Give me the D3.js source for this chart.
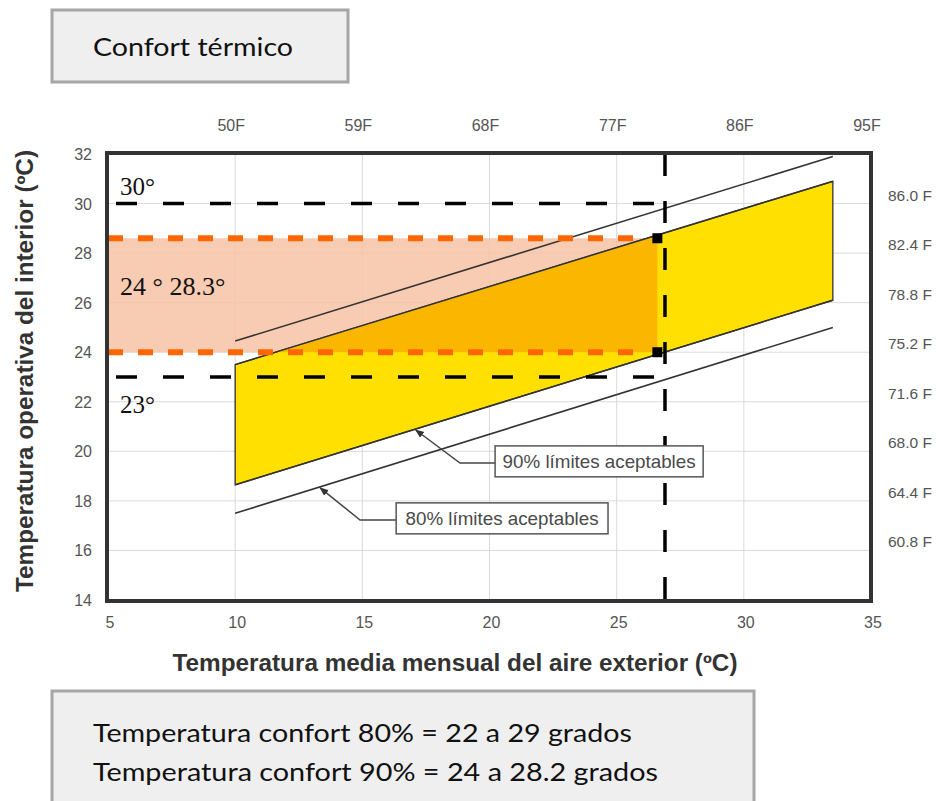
<!DOCTYPE html>
<html>
<head>
<meta charset="utf-8">
<script src="https://cdn.jsdelivr.net/npm/d3@7/dist/d3.min.js"></script>
<style>
  html, body { margin: 0; padding: 0; background: #ffffff; }
  svg { display: block; }
</style>
</head>
<body>
<svg id="chart" width="939" height="801"></svg>
<script>
// ---------------- data ----------------
const xTicks = [5, 10, 15, 20, 25, 30, 35];
const yTicks = [14, 16, 18, 20, 22, 24, 26, 28, 30, 32];
const topLabels = ["50F", "59F", "68F", "77F", "86F", "95F"];
const topLabelX = [10, 15, 20, 25, 30, 35];
const rightLabels = ["86.0 F", "82.4 F", "78.8 F", "75.2 F", "71.6 F", "68.0 F", "64.4 F", "60.8 F"];
const rightLabelY = [30, 28, 26, 24, 22, 20, 18, 16];

// acceptability limits [outdoor temp, operative temp]
const lim80Upper = [[10, 24.45], [33.5, 31.9]];
const lim80Lower = [[10, 17.5], [33.5, 25.0]];
const lim90Upper = [[10, 23.5], [33.5, 30.9]];
const lim90Lower = [[10, 18.65], [33.5, 26.1]];

// reference lines
const blackRefY = [30, 23];
const blackRefLabels = ["30°", "23°"];
const blackRefLabelY = [30.67, 21.87];
const verticalRefX = [26.9];
const comfortBandY = [24, 28.6];
const comfortBandXEnd = [26.6];
const bandLabel = ["24 ° 28.3°"];
const bandLabelY = [26.63];

// annotations
const annotTexts = ["90% límites aceptables", "80% límites aceptables"];
const annotTipX = [17.1, 13.34];
const annotLines = ["lim90Lower", "lim80Lower"];
const annotElbow = [[18.84, 19.53], [14.91, 17.23]];
const annotBox = [[20.22, 20.22, 28.4, 18.97], [16.33, 17.92, 24.66, 16.67]];

// ---------------- layout ----------------
const svg = d3.select("#chart");
const x = d3.scaleLinear().domain([5, 35]).range([108, 871]);
const y = d3.scaleLinear().domain([14, 32]).range([600, 154]);

const lineGen = d3.line().x(d => x(d[0])).y(d => y(d[1]));
const lines = { lim90Lower, lim80Lower };
function interp(arr, xv) {
  const [a, b] = arr;
  return a[1] + (xv - a[0]) * (b[1] - a[1]) / (b[0] - a[0]);
}

// title box
svg.append("rect").attr("x", 52).attr("y", 10).attr("width", 296).attr("height", 72)
  .attr("fill", "#efefef").attr("stroke", "#a6a6a6").attr("stroke-width", 3);
svg.append("text").attr("x", 93).attr("y", 56).text("Confort térmico")
  .attr("font-family", "Lato, 'Open Sans', sans-serif").attr("font-size", 25).attr("fill", "#111")
  .attr("textLength", 200).attr("lengthAdjust", "spacingAndGlyphs");

// gridlines
const grid = svg.append("g").attr("stroke", "#dadada").attr("stroke-width", 1);
grid.selectAll("line.v").data(xTicks).join("line")
  .attr("x1", d => x(d)).attr("x2", d => x(d)).attr("y1", y(32)).attr("y2", y(14));
grid.selectAll("line.h").data(yTicks).join("line")
  .attr("x1", x(5)).attr("x2", x(35)).attr("y1", d => y(d)).attr("y2", d => y(d));

// comfort band (pink)
svg.append("rect")
  .attr("x", x(5)).attr("y", y(comfortBandY[1]))
  .attr("width", x(comfortBandXEnd[0]) - x(5))
  .attr("height", y(comfortBandY[0]) - y(comfortBandY[1]))
  .attr("fill", "#f7c3a5").attr("fill-opacity", 0.85);

// 90% polygon
const poly90 = lim90Upper.concat(lim90Lower.slice().reverse());
const polyPath = "M" + poly90.map(d => [x(d[0]), y(d[1])].join(",")).join("L") + "Z";
svg.append("defs").append("clipPath").attr("id", "clip90")
  .append("path").attr("d", polyPath);
svg.append("path").attr("d", polyPath).attr("fill", "#ffe000")
  .attr("stroke", "#333").attr("stroke-width", 1.3);

// overlap (dark orange)
svg.append("rect")
  .attr("x", x(5)).attr("y", y(comfortBandY[1]))
  .attr("width", x(comfortBandXEnd[0]) - x(5))
  .attr("height", y(comfortBandY[0]) - y(comfortBandY[1]))
  .attr("fill", "#fbb700").attr("clip-path", "url(#clip90)");

// 90% lines on top
[lim90Upper, lim90Lower].forEach(l => {
  svg.append("path").attr("d", lineGen(l)).attr("fill", "none")
    .attr("stroke", "#333").attr("stroke-width", 1.5);
});
// 80% lines
[lim80Upper, lim80Lower].forEach(l => {
  svg.append("path").attr("d", lineGen(l)).attr("fill", "none")
    .attr("stroke", "#333").attr("stroke-width", 1.6);
});

// black dashed reference lines
svg.selectAll("line.bref").data(blackRefY).join("line")
  .attr("x1", x(5)).attr("x2", x(verticalRefX[0]))
  .attr("y1", d => y(d)).attr("y2", d => y(d))
  .attr("stroke", "#000").attr("stroke-width", 3.5)
  .attr("stroke-dasharray", "21,26").attr("stroke-dashoffset", -8);
svg.selectAll("line.vref").data(verticalRefX).join("line")
  .attr("x1", d => x(d)).attr("x2", d => x(d))
  .attr("y1", y(32)).attr("y2", y(14))
  .attr("stroke", "#000").attr("stroke-width", 3.5)
  .attr("stroke-dasharray", "22,25");

// orange dashed comfort limits
svg.selectAll("line.oref").data(comfortBandY).join("line")
  .attr("x1", x(5)).attr("x2", x(comfortBandXEnd[0]) - 16)
  .attr("y1", d => y(d)).attr("y2", d => y(d))
  .attr("stroke", "#ff6600").attr("stroke-width", 6)
  .attr("stroke-dasharray", "15,15");

// black squares at band corners
svg.selectAll("rect.sq").data(comfortBandY).join("rect")
  .attr("x", x(comfortBandXEnd[0]) - 5).attr("y", d => y(d) - 5)
  .attr("width", 10).attr("height", 10).attr("fill", "#000");

// frame
svg.append("rect").attr("x", x(5) - 1).attr("y", y(32) - 1)
  .attr("width", x(35) - x(5) + 1).attr("height", y(14) - y(32) + 2)
  .attr("fill", "none").attr("stroke", "#333").attr("stroke-width", 4);

// tick labels
const tickFont = "Arial, 'Liberation Sans', sans-serif";
svg.selectAll("text.xt").data(xTicks).join("text")
  .attr("x", d => x(d) + 2).attr("y", 628).attr("text-anchor", "middle")
  .attr("font-family", tickFont).attr("font-size", 16).attr("fill", "#555").text(d => d);
svg.selectAll("text.yt").data(yTicks).join("text")
  .attr("x", 92).attr("y", d => y(d) + 6).attr("text-anchor", "end")
  .attr("font-family", tickFont).attr("font-size", 16).attr("fill", "#555").text(d => d);
svg.selectAll("text.tt").data(topLabels).join("text")
  .attr("x", (d, i) => x(topLabelX[i]) - 4).attr("y", 131).attr("text-anchor", "middle")
  .attr("font-family", tickFont).attr("font-size", 16).attr("fill", "#555").text(d => d);
svg.selectAll("text.rt").data(rightLabels).join("text")
  .attr("x", 888).attr("y", (d, i) => y(rightLabelY[i]) - 3).attr("text-anchor", "start")
  .attr("font-family", tickFont).attr("font-size", 15.5).attr("fill", "#555").text(d => d);

// axis titles
svg.append("text").attr("x", 455).attr("y", 671).attr("text-anchor", "middle")
  .attr("font-family", tickFont).attr("font-weight", "bold").attr("font-size", 23).attr("fill", "#333")
  .attr("textLength", 565).attr("lengthAdjust", "spacingAndGlyphs")
  .text("Temperatura media mensual del aire exterior (ºC)");
svg.append("text").attr("transform", "translate(33,371) rotate(-90)").attr("text-anchor", "middle")
  .attr("font-family", tickFont).attr("font-weight", "bold").attr("font-size", 23).attr("fill", "#333")
  .attr("textLength", 442).attr("lengthAdjust", "spacingAndGlyphs")
  .text("Temperatura operativa del interior (ºC)");

// serif labels
const serif = "'Liberation Serif', 'Times New Roman', serif";
svg.selectAll("text.bl").data(blackRefLabels).join("text")
  .attr("x", 120).attr("y", (d, i) => y(blackRefLabelY[i]) + 8)
  .attr("font-family", serif).attr("font-size", 25).attr("fill", "#111").text(d => d);
svg.selectAll("text.bandl").data(bandLabel).join("text")
  .attr("x", 120).attr("y", (d, i) => y(bandLabelY[i]) + 8)
  .attr("font-family", serif).attr("font-size", 26).attr("fill", "#111").text(d => d);

// annotations
const defs = svg.select("defs");
defs.append("marker").attr("id", "arrow").attr("viewBox", "0 0 10 10")
  .attr("refX", 9).attr("refY", 5).attr("markerWidth", 6).attr("markerHeight", 6)
  .attr("orient", "auto").append("path").attr("d", "M0,1L10,5L0,9Z").attr("fill", "#333");
annotTexts.forEach((t, i) => {
  const tipX = annotTipX[i];
  const tipY = interp(lines[annotLines[i]], tipX);
  const [ex, ey] = annotElbow[i];
  const [bx0, by0, bx1, by1] = annotBox[i];
  svg.append("path")
    .attr("d", `M${x(bx0)},${y(ey)}L${x(ex)},${y(ey)}L${x(tipX)},${y(tipY) + 1}`)
    .attr("fill", "none").attr("stroke", "#444").attr("stroke-width", 1.5)
    .attr("marker-end", "url(#arrow)");
  svg.append("rect").attr("x", x(bx0)).attr("y", y(by0))
    .attr("width", x(bx1) - x(bx0)).attr("height", y(by1) - y(by0))
    .attr("fill", "#fff").attr("stroke", "#555").attr("stroke-width", 1.5);
  svg.append("text").attr("x", (x(bx0) + x(bx1)) / 2).attr("y", (y(by0) + y(by1)) / 2 + 6.5)
    .attr("text-anchor", "middle").attr("font-family", tickFont).attr("font-size", 18.5)
    .attr("fill", "#4a4a4a").attr("textLength", 193).attr("lengthAdjust", "spacingAndGlyphs").text(t);
});

// bottom note box
const noteLines = ["Temperatura confort 80% = 22 a 29 grados", "Temperatura confort 90% = 24 a 28.2 grados"];
const noteWidths = [539, 565];
svg.append("rect").attr("x", 52).attr("y", 691).attr("width", 702).attr("height", 130)
  .attr("fill", "#efefef").attr("stroke", "#a6a6a6").attr("stroke-width", 3);
svg.selectAll("text.note").data(noteLines).join("text")
  .attr("x", 93).attr("y", (d, i) => 742 + i * 39)
  .attr("font-family", "Lato, 'Open Sans', sans-serif").attr("font-size", 25).attr("fill", "#111")
  .attr("textLength", (d, i) => noteWidths[i]).attr("lengthAdjust", "spacingAndGlyphs")
  .text(d => d);
</script>
</body>
</html>
